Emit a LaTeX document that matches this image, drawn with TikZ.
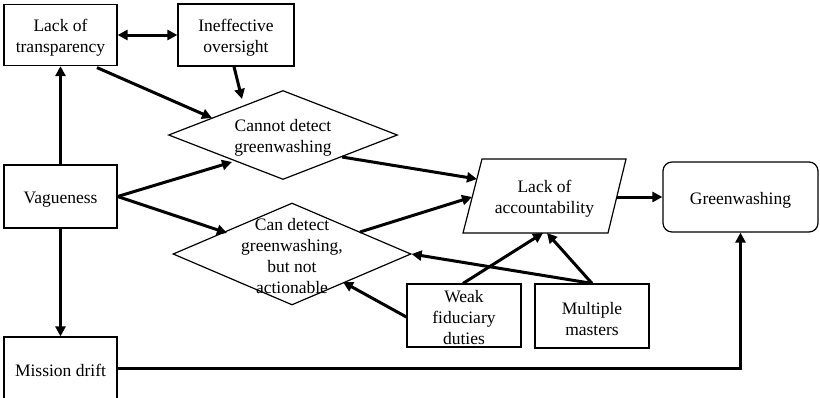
\documentclass[tikz,border=0pt]{standalone}
\usepackage{fontspec}
\setmainfont{Liberation Serif}
\usetikzlibrary{shapes.geometric,arrows.meta,calc}
\begin{document}
\begin{tikzpicture}[x=1pt,y=-1pt,
  every node/.style={font=\fontsize{17.5}{21}\selectfont, align=center, inner sep=0pt},
  txt/.style={yshift=-3pt},
  box/.style={draw, line width=1.2pt, rectangle},
  dia/.style={draw, line width=1.2pt, diamond},
  arr/.style={line width=3pt, -{Triangle[length=10pt,width=10pt]}},
  darr/.style={line width=3pt, {Triangle[length=10pt,width=10pt]}-{Triangle[length=10pt,width=10pt]}}
]
\useasboundingbox (0,0) rectangle (820,397);
\node[box, minimum width=113pt, minimum height=61pt] (trans) at (60.5,35) {};
\node[txt] at (trans.center) {Lack of\\transparency};
\node[box, minimum width=116pt, minimum height=62pt] (over) at (236,35) {};
\node[txt] at (over.center) {Ineffective\\oversight};
\node[box, minimum width=113pt, minimum height=63pt] (vag) at (60.5,196.5) {};
\node[txt] at (vag.center) {Vagueness};
\node[box, minimum width=113pt, minimum height=62pt] (mis) at (60.5,368) {};
\node[txt] at ([yshift=1]mis.center) {Mission drift};
\node[dia, minimum width=229pt, minimum height=89pt] (cd1) at (283,135) {};
\node[txt] at (cd1.center) {Cannot detect\\greenwashing};
\node[dia, minimum width=238pt, minimum height=102pt] (cd2) at (292,254) {};
\node[txt] at ([yshift=1]cd2.center) {Can detect\\greenwashing,\\but not\\actionable};
\node[minimum width=144pt, minimum height=74pt] (acc) at (544.5,196) {};
\node[txt] at (acc.center) {Lack of\\accountability};
\draw[line width=1.2pt] ([shift={(-62.5,-37)}]acc.center) -- ([shift={(81.5,-37)}]acc.center)
  -- ([shift={(63.5,37)}]acc.center) -- ([shift={(-81.5,37)}]acc.center) -- cycle;
\node[box, rounded corners=9pt, minimum width=155pt, minimum height=70pt] (green) at (740.5,197) {};
\node[txt] at (green.center) {Greenwashing};
\node[box, minimum width=114pt, minimum height=63pt] (weak) at (464,315.5) {};
\node[txt] at ([yshift=0.5]weak.center) {Weak\\fiduciary\\duties};
\node[box, minimum width=114pt, minimum height=64pt] (mult) at (592,316) {};
\node[txt] at (mult.center) {Multiple\\masters};

\draw[darr] (trans.east) -- (over.west);
\draw[arr] ([shift={(-2,0)}]over.south) -- ([shift={(-41,-36)}]cd1.center);
\draw[arr] ([shift={(36.5,1.5)}]trans.south) -- ([shift={(-71,-17)}]cd1.center);
\draw[arr] (vag.north) -- (trans.south);
\draw[arr] (vag.east) -- ([shift={(-51,27)}]cd1.center);
\draw[arr] (vag.east) -- ([shift={(-65,-21)}]cd2.center);
\draw[arr] (vag.south) -- (mis.north);
\draw[arr] ([shift={(59,22)}]cd1.center) -- ([shift={(-67.5,-17)}]acc.center);
\draw[arr] ([shift={(68,-22)}]cd2.center) -- ([shift={(-72.5,1)}]acc.center);
\draw[arr] ([shift={(72.5,1)}]acc.center) -- (green.west);
\draw[arr] ([shift={(-1,0)}]weak.north) -- ([shift={(-1.5,37)}]acc.center);
\draw[arr] (mult.north) -- ([shift={(2.5,37)}]acc.center);
\draw[arr] (mult.north) -- (cd2.east);
\draw[arr] ([shift={(0,1.5)}]weak.west) -- ([shift={(51,28)}]cd2.center);
\draw[arr] (mis.east) -| (green.south);
\end{tikzpicture}
\end{document}
